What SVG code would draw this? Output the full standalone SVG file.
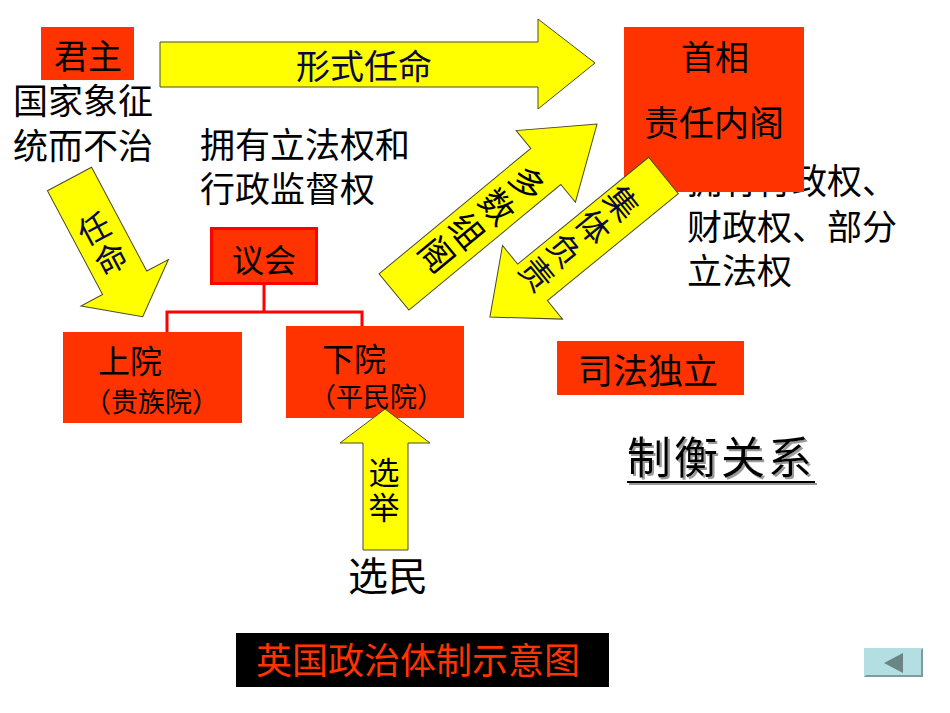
<svg xmlns="http://www.w3.org/2000/svg" width="950" height="713" viewBox="0 0 950 713">
<style>
text{font-family:"Noto Sans CJK SC","Noto Sans",sans-serif;fill:#000}
.box{fill:#ff3300}
.arr{fill:#ffff00;stroke:#4a4a2a;stroke-width:1}
.navy{fill:#0a0a40}
.c{text-anchor:middle}
.v{text-anchor:middle;dominant-baseline:central}
.conn{fill:none;stroke:#ff0000;stroke-width:3}
</style>
<defs>
<filter id="shadow" x="-10%" y="-20%" width="130%" height="150%">
<feOffset in="SourceAlpha" dx="2" dy="2" result="o"/>
<feFlood flood-color="#9a9a9a"/>
<feComposite in2="o" operator="in" result="s"/>
<feMerge><feMergeNode in="s"/><feMergeNode in="SourceGraphic"/></feMerge>
</filter>
</defs>
<rect width="950" height="713" fill="#fff"/>

<g id="monarch">
<rect class="box" x="41" y="27" width="93" height="53"/>
<text class="c" x="88" y="69" font-size="34">君主</text>
</g>
<g id="monarch-note">
<text x="13" y="114" font-size="35">国家象征</text>
<text x="13" y="159" font-size="35">统而不治</text>
</g>
<g id="parliament-note">
<text x="200" y="158" font-size="35">拥有立法权和</text>
<text x="200" y="202" font-size="35">行政监督权</text>
</g>

<g id="cabinet-note">
<text x="687" y="194" font-size="35">拥有行政权、</text>
<text x="687" y="240" font-size="35">财政权、部分</text>
<text x="687" y="284" font-size="35">立法权</text>
</g>
<g id="cabinet">
<rect class="box" x="624" y="27" width="180" height="165"/>
<text class="c" x="715" y="70" font-size="34">首相</text>
<text class="c" x="714" y="136" font-size="35">责任内阁</text>
</g>

<g id="connectors">
<polyline class="conn" points="264,285 264,312"/>
<polyline class="conn" points="167,332 167,312 362,312 362,340"/>
</g>

<g id="parliament">
<rect x="211.5" y="228.5" width="105" height="55" fill="#ff3300" stroke="#ff0000" stroke-width="3"/>
<text class="c" x="264" y="272" font-size="32">议会</text>
</g>
<g id="upper-house">
<rect class="box" x="63" y="332" width="179" height="91"/>
<text x="98" y="373" font-size="32">上院</text>
<text x="84" y="412" font-size="27">（贵族院）</text>
</g>
<g id="lower-house">
<rect class="box" x="286" y="326" width="178" height="92"/>
<text x="322" y="371" font-size="32">下院</text>
<text x="309" y="407" font-size="27">（平民院）</text>
</g>

<g id="arrow-formal">
<path class="arr" d="M160 42 L538 42 L538 19 L595 63 L538 109 L538 87 L160 87 Z"/>
<text class="c navy" x="364" y="79" font-size="34">形式任命</text>
</g>
<g id="arrow-appoint">
<path class="arr" transform="translate(69.5,179) rotate(-28)" d="M-25 0 L25 0 L25 117.5 L49.5 117.5 L0 156 L-49.5 117.5 L-25 117.5 Z"/>
<text class="v navy" font-size="32" transform="translate(93,227) rotate(-28)">任</text>
<text class="v navy" font-size="32" transform="translate(110,257) rotate(-28)">命</text>
</g>
<g id="arrow-majority">
<path class="arr" transform="translate(394,292) rotate(-39.6)" d="M0 -23.5 L197 -23.5 L197 -46.5 L263.5 0 L197 46.5 L197 23.5 L0 23.5 Z"/>
<text class="v" font-size="34" transform="translate(529,182) rotate(50.4)">多</text>
<text class="v" font-size="34" transform="translate(498.7,205.7) rotate(50.4)">数</text>
<text class="v" font-size="34" transform="translate(468.3,229.3) rotate(50.4)">组</text>
<text class="v" font-size="34" transform="translate(438,253) rotate(50.4)">阁</text>
</g>
<g id="arrow-collective">
<path class="arr" transform="translate(663.5,175.5) rotate(140.8)" d="M0 -23.5 L169 -23.5 L169 -47.5 L224 0 L169 47.5 L169 23.5 L0 23.5 Z"/>
<text class="v navy" font-size="33" transform="translate(623,202) rotate(50.8)">集</text>
<text class="v navy" font-size="33" transform="translate(594.7,225.7) rotate(50.8)">体</text>
<text class="v navy" font-size="33" transform="translate(566.3,249.3) rotate(50.8)">负</text>
<text class="v navy" font-size="33" transform="translate(538,273) rotate(50.8)">责</text>
</g>
<g id="arrow-election">
<path class="arr" d="M363 550 L363 443 L340 443 L385 409 L430 443 L408 443 L408 550 Z"/>
<text class="v" font-size="31" x="384" y="470">选</text>
<text class="v" font-size="31" x="384" y="505">举</text>
</g>
<g id="voters">
<text class="c" x="388" y="591" font-size="40">选民</text>
</g>

<g id="judiciary">
<rect class="box" x="557" y="341" width="187" height="54"/>
<text x="578" y="384" font-size="35">司法独立</text>
</g>
<g id="checks" filter="url(#shadow)">
<text x="627" y="474" font-size="44" letter-spacing="3">制衡关系</text>
<line x1="627" y1="482" x2="815" y2="482" stroke="#000" stroke-width="2"/>
</g>

<g id="title">
<rect x="236" y="633" width="373" height="54" fill="#000"/>
<text x="256" y="674" font-size="36" style="fill:#ff3300">英国政治体制示意图</text>
</g>
<g id="nav-back">
<rect x="864" y="648" width="59" height="29" fill="#b3dfe2"/>
<path d="M923 648 L923 677 L864 677 L866 675 L921 675 L921 650 Z" fill="#7d9c9e"/>
<path d="M884 663 L903 653 L903 673 Z" fill="#6b8587"/>
</g>
</svg>
